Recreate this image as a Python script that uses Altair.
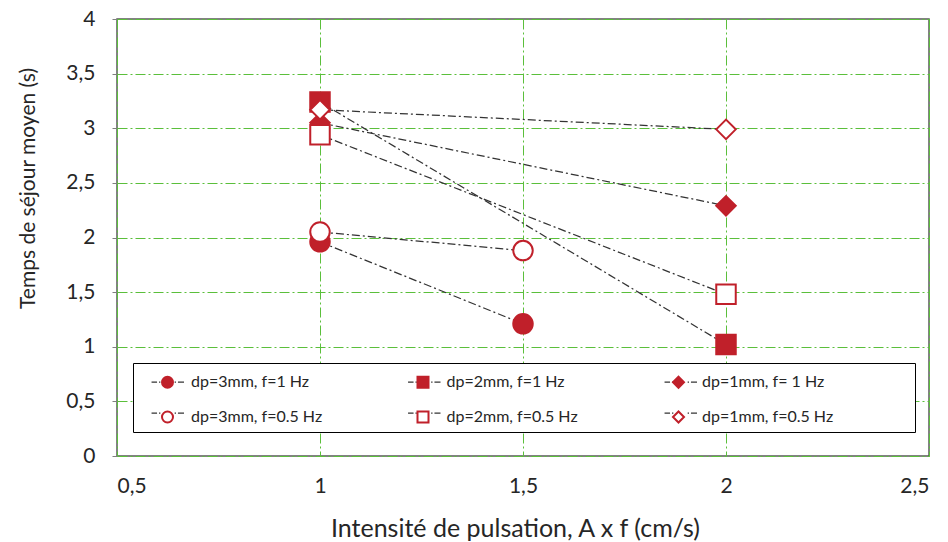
import altair as alt
import pandas as pd

RED = "#C0202A"
LINE_GRAY = "#333333"
GRID_GREEN = "#5BBF3B"
TEXT = "#262626"

series = ["dp=3mm, f=1 Hz", "dp=2mm, f=1 Hz", "dp=1mm, f= 1 Hz",
          "dp=3mm, f=0.5 Hz", "dp=2mm, f=0.5 Hz", "dp=1mm, f=0.5 Hz"]
x_values = [[1, 1.5], [1, 2], [1, 2], [1, 1.5], [1, 2], [1, 2]]
y_values = [[1.96, 1.21], [3.24, 1.02], [3.05, 2.29],
            [2.05, 1.88], [2.94, 1.48], [3.17, 2.99]]
shapes = ["circle", "square", "diamond", "circle", "square", "diamond"]
fills = [RED, RED, RED, "white", "white", "white"]
x_ticks = [0.5, 1, 1.5, 2, 2.5]
y_ticks = [0, 0.5, 1, 1.5, 2, 2.5, 3, 3.5, 4]

lignes = [s + "|" for s in series]
rows = []
for s, l, xs, ys in zip(series, lignes, x_values, y_values):
    for xv, yv in zip(xs, ys):
        rows.append({"series": s, "ligne": l, "x": xv, "y": yv})
df = pd.DataFrame(rows)

DASH_PATH = ("M -2.9 0 L -1.9 0 M -1.55 0 L -1.3 0 "
             "M 1.3 0 L 1.55 0 M 1.9 0 L 3.0 0")

common = dict(orient="none", legendX=16, legendY=344, columns=3,
              direction="horizontal",
              symbolSize=121, symbolOffset=15.5,
              rowPadding=15, padding=11,
              labelFont="Lato", labelFontSize=16, labelLimit=500,
              gridAlign="all", title=None)

label_fmt = "replace(toString(datum.value), '.', ',')"

x_enc = alt.X("x:Q",
              scale=alt.Scale(domain=[0.5, 2.5], nice=False, zero=False),
              axis=alt.Axis(values=x_ticks, labelExpr=label_fmt,
                            title="Intensité de pulsation, A x f (cm/s)",
                            ticks=False, domain=False, labelPadding=19,
                            labelFontSize=21, titleFontSize=25,
                            titlePadding=20, titleX=398,
                            labelFont="Lato", titleFont="Lato",
                            labelColor=TEXT, titleColor=TEXT,
                            titleFontWeight="normal",
                            grid=True, gridColor=GRID_GREEN,
                            gridDash=[10, 3, 2, 3], gridWidth=1))
y_enc = alt.Y("y:Q",
              scale=alt.Scale(domain=[0, 4], nice=False, zero=True),
              axis=alt.Axis(values=y_ticks, labelExpr=label_fmt,
                            title="Temps de séjour moyen  (s)",
                            ticks=True, tickSize=5, tickColor="#7f7f7f",
                            domain=False, labelPadding=17,
                            labelFontSize=21, titleFontSize=21,
                            titlePadding=27, titleY=169,
                            labelFont="Lato", titleFont="Lato",
                            labelColor=TEXT, titleColor=TEXT,
                            titleFontWeight="normal",
                            grid=True, gridColor=GRID_GREEN,
                            gridDash=[10, 3, 2, 3], gridWidth=1))

base = alt.Chart(df)

# legend drawn underneath: frame + dash-dot line samples
legA = alt.Legend(symbolType=DASH_PATH,
                  symbolStrokeColor=LINE_GRAY,
                  symbolFillColor="transparent",
                  symbolDash=[1, 0],
                  labelExpr="'.'", labelOpacity=0,
                  labelOffset=210.8, columnPadding=9.5,
                  fillColor="white", strokeColor="black",
                  zindex=0, **common)

# legend drawn on top: markers + labels
legB = alt.Legend(symbolStrokeWidth=2,
                  labelColor=TEXT, labelOffset=15.5, columnPadding=76.5,
                  zindex=1, **common)

lines = base.mark_line(stroke=LINE_GRAY, strokeDash=[8, 3, 2, 3]).encode(
    x=x_enc, y=y_enc,
    strokeWidth=alt.StrokeWidth("ligne:N",
                                scale=alt.Scale(domain=lignes, range=[1.25] * 6),
                                legend=legA),
    order="x:Q",
)

points = base.mark_point(filled=False, size=380, strokeWidth=2, opacity=1).encode(
    x=x_enc, y=y_enc,
    shape=alt.Shape("series:N", scale=alt.Scale(domain=series, range=shapes),
                    legend=legB),
    fill=alt.Fill("series:N", scale=alt.Scale(domain=series, range=fills),
                  legend=legB),
    stroke=alt.value(RED),
)

chart = alt.layer(lines, points).properties(
    width=812, height=437,
    padding={"left": 117, "top": 19, "right": 19, "bottom": 86},
    autosize=alt.AutoSizeParams(type="none"),
    background="white",
).configure_view(stroke="#595959", strokeWidth=1.5)

chart.save("out.html", embed_options={"renderer": "svg", "actions": False})
